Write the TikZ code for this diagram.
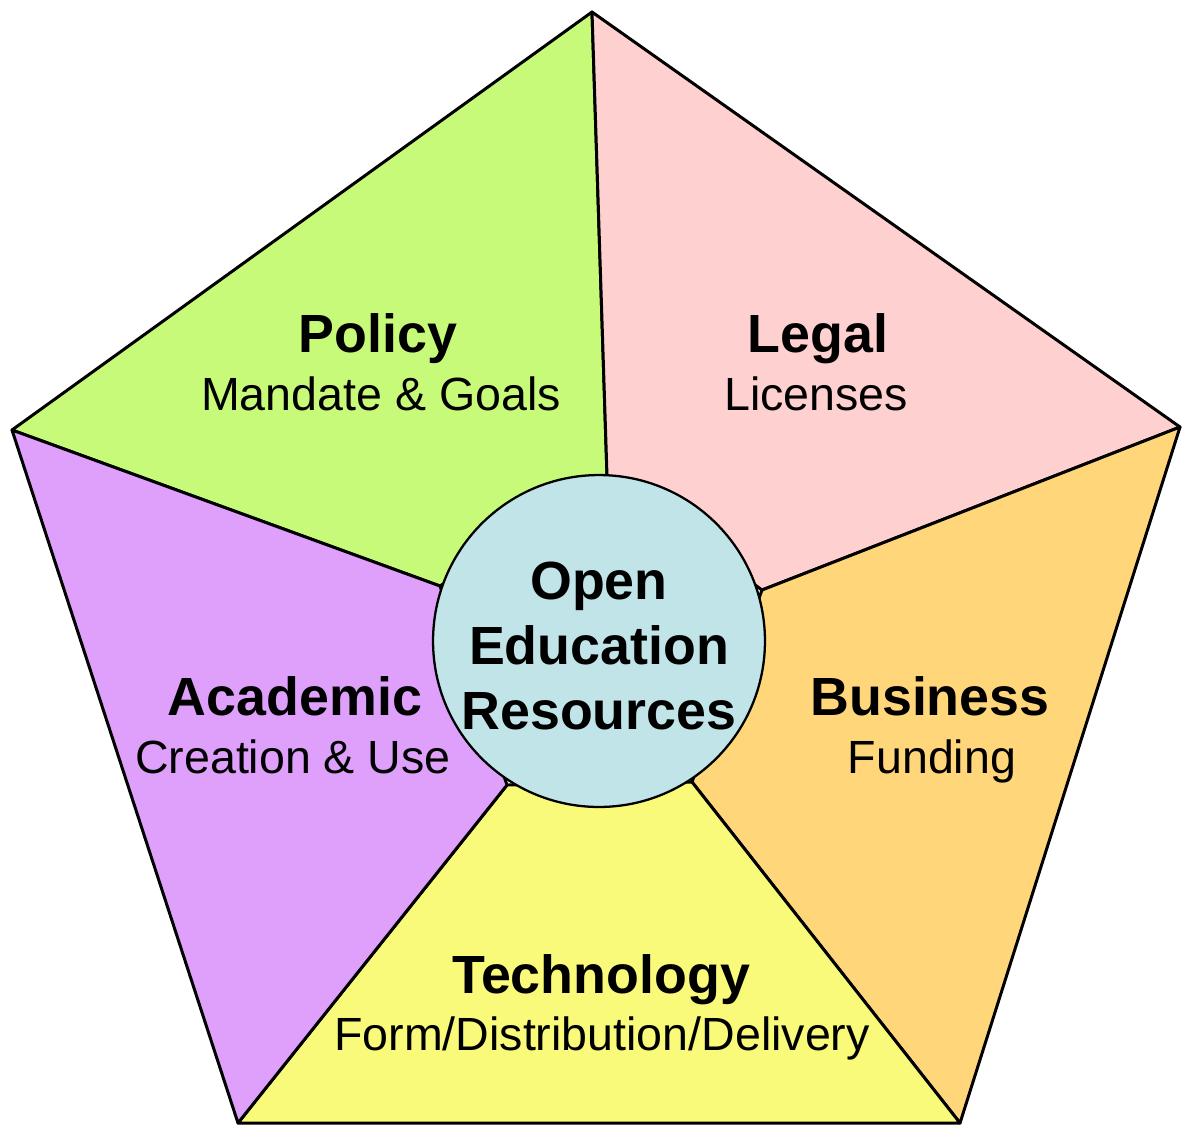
\documentclass[tikz,border=0pt]{standalone}
\usepackage{fontspec}
\setmainfont{Liberation Sans}
\usepackage{tikz}
\usetikzlibrary{calc,positioning}
\definecolor{policycol}{RGB}{200,250,122}
\definecolor{legalcol}{RGB}{255,208,208}
\definecolor{businesscol}{RGB}{255,214,122}
\definecolor{techcol}{RGB}{250,250,122}
\definecolor{academiccol}{RGB}{222,160,250}
\definecolor{oercol}{RGB}{192,228,232}
\newcommand{\headfont}{\fontsize{30.6}{37}\selectfont\bfseries}
\newcommand{\subfont}{\fontsize{26.5}{32}\selectfont}

\begin{document}
\begin{tikzpicture}[x=0.02cm, y=-0.02cm, line join=round,
  wedge/.style={draw=black, line width=1.7pt},
  head/.style={anchor=base, inner sep=0pt, font=\headfont},
  sub/.style={anchor=base, inner sep=0pt, font=\subfont}]
  \useasboundingbox (0,0) rectangle (1182,1130);
  % outer corners and points on the hub
  \coordinate (T) at (592,12);
  \coordinate (R) at (1180,427);
  \coordinate (BR) at (960,1123);
  \coordinate (BL) at (238,1123);
  \coordinate (L) at (12,430);
  \coordinate (ct) at (607,476);
  \coordinate (cr) at (762,590);
  \coordinate (cbr) at (692,782);
  \coordinate (cbl) at (507,785);
  \coordinate (cl) at (440,586);
  \foreach \a/\b/\c/\d/\col in {L/T/ct/cl/policycol, T/R/cr/ct/legalcol,
      R/BR/cbr/cr/businesscol, BR/BL/cbl/cbr/techcol, BL/L/cl/cbl/academiccol}{
    \filldraw[wedge, fill=\col] (\a) -- (\b) -- (\c) -- (\d) -- cycle;
  }
  \node[circle, draw, line width=1.3pt, fill=oercol, minimum size=6.64cm] (oer) at (599,641) {};
  \node[align=center, font=\headfont, inner sep=0pt] (oertext) at (599,646) {Open\\Education\\Resources};
  % labels
  \node[head] (policy) at (378,352) {Policy};
  \node[sub] (policysub) at (381,410) {Mandate \& Goals};
  \node[head] (legal) at (818,352) {Legal};
  \node[sub] (legalsub) at (816,410) {Licenses};
  \node[head] (academic) at (295,715) {Academic};
  \node[sub] (academicsub) at (293,773) {Creation \& Use};
  \node[head] (business) at (930,715) {Business};
  \node[sub] (businesssub) at (932,773) {Funding};
  \node[head] (tech) at (601,993) {Technology};
  \node[sub] (techsub) at (602,1050) {Form/Distribution/Delivery};
\end{tikzpicture}
\end{document}
